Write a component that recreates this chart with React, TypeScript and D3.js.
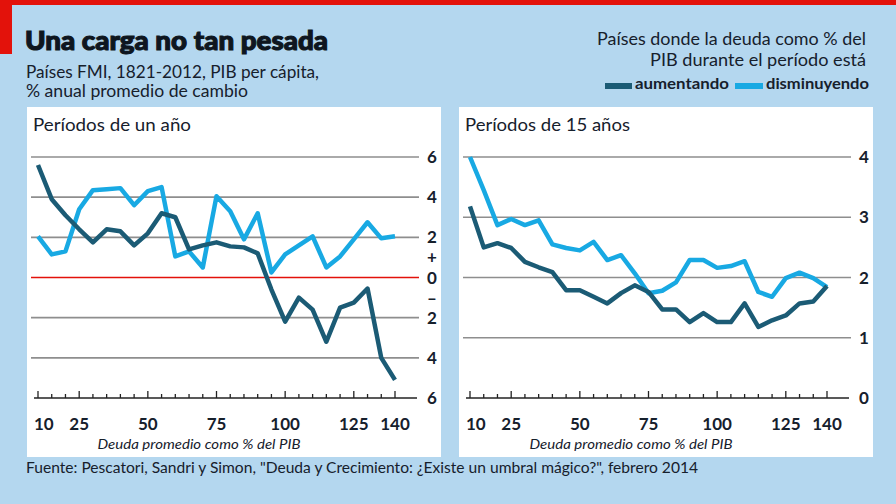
import React from "react";
import * as d3 from "d3";

// Deuda promedio como % del PIB (x categories)
const debtLevels = [10, 15, 20, 25, 30, 35, 40, 45, 50, 55, 60, 65, 70, 75, 80, 85, 90, 95, 100, 105, 110, 115, 120, 125, 130, 135, 140];

// Períodos de un año
const oneYearRising = [5.6, 3.9, 3.1, 2.4, 1.75, 2.4, 2.3, 1.6, 2.2, 3.2, 3.0, 1.4, 1.6, 1.75, 1.55, 1.5, 1.2, -0.6, -2.2, -1.0, -1.6, -3.2, -1.5, -1.25, -0.55, -4.0, -5.1];
const oneYearFalling = [2.05, 1.15, 1.3, 3.4, 4.35, 4.4, 4.45, 3.6, 4.3, 4.5, 1.05, 1.3, 0.5, 4.05, 3.3, 1.9, 3.2, 0.25, 1.15, 1.6, 2.05, 0.5, 1.05, 1.9, 2.75, 1.95, 2.05];

// Períodos de 15 años
const fifteenYearRising = [3.18, 2.5, 2.57, 2.49, 2.26, 2.17, 2.09, 1.79, 1.79, 1.68, 1.57, 1.74, 1.87, 1.76, 1.47, 1.47, 1.26, 1.41, 1.26, 1.26, 1.57, 1.18, 1.29, 1.37, 1.57, 1.6, 1.86];
const fifteenYearFalling = [4.0, 3.45, 2.87, 2.97, 2.87, 2.95, 2.55, 2.49, 2.45, 2.59, 2.29, 2.37, 2.07, 1.74, 1.78, 1.92, 2.29, 2.29, 2.16, 2.19, 2.27, 1.76, 1.68, 1.99, 2.08, 1.99, 1.84];

// tick labels
const xTickLabels = [10, 25, 50, 75, 100, 125, 140];
const oneYearTickValues = [6, 4, 2, 1, 0, -1, -2, -4, -6];
const oneYearTickLabels = ["6", "4", "2", "+", "0", "–", "2", "4", "6"];
const oneYearGrid = [6, 4, 2, -2, -4];
const fifteenYearTickValues = [4, 3, 2, 1, 0];
const fifteenYearTickLabels = ["4", "3", "2", "1", "0"];
const fifteenYearGrid = [4, 3, 2, 1];

const W = 896;
const H = 504;
const BG = "#b4d7ef";
const RED = "#e3120b";
const DARK = "#1b5b75";
const LIGHT = "#18a9e3";
const TEXT = "#16202c";
const FONT = "Lato, 'Open Sans', sans-serif";

interface PanelProps {
  left: number; // left edge of the white box
  title: string;
  titleWidth: number;
  yDomain: [number, number];
  tickValues: number[];
  tickLabels: string[];
  grid: number[];
  redZero: boolean;
  rising: number[];
  falling: number[];
}

const Panel: React.FC<PanelProps> = ({ left, title, titleWidth, yDomain, tickValues, tickLabels, grid, redZero, rising, falling }) => {
  const boxW = 414;
  const top = 107;
  const bottom = 457;
  const gridX0 = left + 4;
  const gridX1 = left + 392;

  const x = d3.scaleLinear().domain([10, 140]).range([left + 11, left + 368]);
  const y = d3.scaleLinear().domain(yDomain).range([398, 157]);

  const line = d3
    .line<number>()
    .x((_, i) => x(debtLevels[i]))
    .y((d) => y(d));

  const ticks = debtLevels;

  return (
    <g>
      <rect x={left} y={top} width={boxW} height={bottom - top} fill="#fff" />
      <text x={left + 6} y={131} fontSize={17} fill={TEXT} textLength={titleWidth} lengthAdjust="spacingAndGlyphs">
        {title}
      </text>

      {/* grid lines */}
      {grid.map((g) => (
        <line key={g} x1={gridX0} x2={gridX1} y1={y(g)} y2={y(g)} stroke="#8e8e8e" strokeWidth={1.6} />
      ))}
      {redZero && <line x1={gridX0} x2={gridX1} y1={y(0)} y2={y(0)} stroke={RED} strokeWidth={1.6} />}

      {/* y tick labels */}
      {tickValues.map((v, i) => (
        <text key={i} x={left + 405} y={y(v) + 6} fontSize={17} fontWeight={700} textAnchor="middle" fill={TEXT}>
          {tickLabels[i]}
        </text>
      ))}

      {/* x axis */}
      <line x1={left + 7} x2={left + 390} y1={y(yDomain[0])} y2={y(yDomain[0])} stroke="#222" strokeWidth={1.6} />
      {ticks.map((t) => (
        <line
          key={t}
          x1={x(t)}
          x2={x(t)}
          y1={y(yDomain[0])}
          y2={y(yDomain[0]) - (xTickLabels.includes(t) ? 7 : 4)}
          stroke="#222"
          strokeWidth={1.3}
        />
      ))}
      {xTickLabels.map((t) => (
        <text
          key={t}
          x={t === 10 ? x(t) - 4 : x(t)}
          y={430}
          fontSize={17}
          fontWeight={700}
          textAnchor={t === 10 ? "start" : "middle"}
          fill={TEXT}
        >
          {t}
        </text>
      ))}
      <text
        x={left + 172}
        y={449}
        fontSize={14}
        fontStyle="italic"
        textAnchor="middle"
        fill={TEXT}
        textLength={203}
        lengthAdjust="spacingAndGlyphs"
      >
        Deuda promedio como % del PIB
      </text>

      {/* series */}
      <path d={line(falling) || ""} fill="none" stroke={LIGHT} strokeWidth={4.5} strokeLinejoin="round" />
      <path d={line(rising) || ""} fill="none" stroke={DARK} strokeWidth={4.5} strokeLinejoin="round" />
    </g>
  );
};

const App: React.FC = () => {
  return (
    <svg
      width={W}
      height={H}
      style={{ position: "absolute", left: 0, top: 0, fontFamily: FONT }}
    >
      <rect x={0} y={0} width={W} height={H} fill={BG} />
      <rect x={0} y={0} width={W} height={5} fill={RED} />
      <rect x={0} y={0} width={12} height={54} fill={RED} />

      {/* heading */}
      <text
        x={25}
        y={50}
        fontSize={26}
        fontWeight={900}
        fill="#0e1620"
        stroke="#0e1620"
        strokeWidth={1.1}
        textLength={303}
        lengthAdjust="spacingAndGlyphs"
      >
        Una carga no tan pesada
      </text>
      <text x={26} y={78} fontSize={17} fill={TEXT} textLength={293} lengthAdjust="spacingAndGlyphs">
        Países FMI, 1821-2012, PIB per cápita,
      </text>
      <text x={26} y={97} fontSize={17} fill={TEXT} textLength={222} lengthAdjust="spacingAndGlyphs">
        % anual promedio de cambio
      </text>

      {/* legend */}
      <text x={866} y={45} fontSize={17} textAnchor="end" fill={TEXT} textLength={269} lengthAdjust="spacingAndGlyphs">
        Países donde la deuda como % del
      </text>
      <text x={866} y={66} fontSize={17} textAnchor="end" fill={TEXT} textLength={216} lengthAdjust="spacingAndGlyphs">
        PIB durante el período está
      </text>
      <rect x={605} y={83} width={27} height={6} fill={DARK} />
      <text x={635} y={89} fontSize={16} fontWeight={700} fill={TEXT} textLength={94} lengthAdjust="spacingAndGlyphs">
        aumentando
      </text>
      <rect x={735} y={83} width={28} height={6} fill={LIGHT} />
      <text x={766} y={89} fontSize={16} fontWeight={700} fill={TEXT} textLength={103} lengthAdjust="spacingAndGlyphs">
        disminuyendo
      </text>

      <Panel
        left={27}
        title="Períodos de un año"
        titleWidth={158}
        yDomain={[-6, 6]}
        tickValues={oneYearTickValues}
        tickLabels={oneYearTickLabels}
        grid={oneYearGrid}
        redZero={true}
        rising={oneYearRising}
        falling={oneYearFalling}
      />
      <Panel
        left={459}
        title="Períodos de 15 años"
        titleWidth={165}
        yDomain={[0, 4]}
        tickValues={fifteenYearTickValues}
        tickLabels={fifteenYearTickLabels}
        grid={fifteenYearGrid}
        redZero={false}
        rising={fifteenYearRising}
        falling={fifteenYearFalling}
      />

      <text x={26} y={473} fontSize={16} fill={TEXT} textLength={672} lengthAdjust="spacingAndGlyphs">
        Fuente: Pescatori, Sandri y Simon, "Deuda y Crecimiento: ¿Existe un umbral mágico?", febrero 2014
      </text>
    </svg>
  );
};

export default App;
